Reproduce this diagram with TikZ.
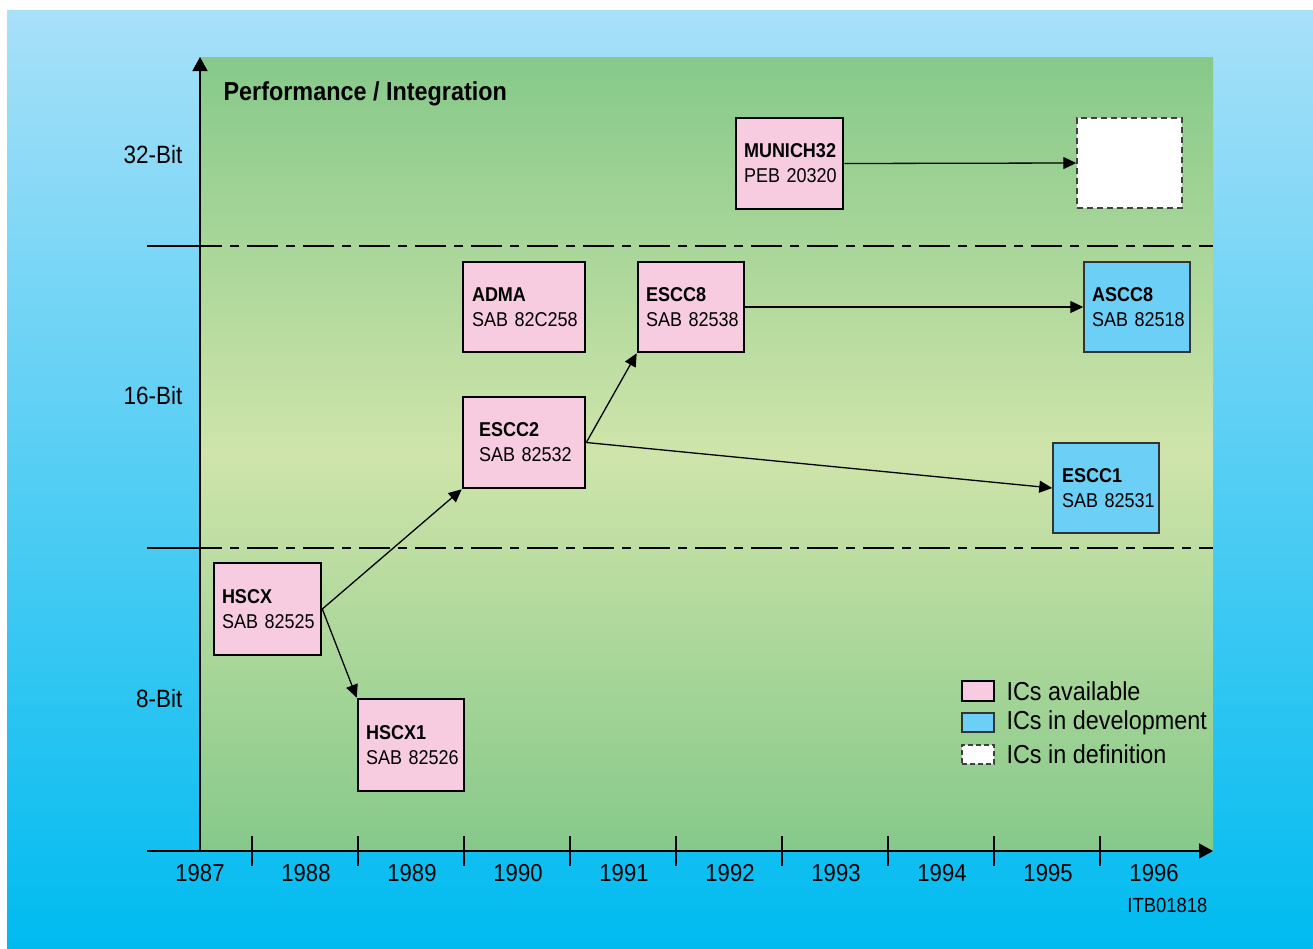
\documentclass[tikz,border=0pt]{standalone}
\usepackage{fontspec}
\setmainfont{Liberation Sans}[FakeStretch=0.9]
\usetikzlibrary{arrows.meta}
\definecolor{skytop}{HTML}{A8E0F8}
\definecolor{skybot}{HTML}{00BBF0}
\definecolor{grnedge}{HTML}{86C98A}
\definecolor{grnmid}{HTML}{CFE4AA}
\definecolor{chippink}{HTML}{F8CCE0}
\definecolor{chipblue}{HTML}{6CCFF6}
\tikzset{
  chipbase/.style={rectangle, align=left, inner ysep=0pt, font=\fontsize{20}{25}\selectfont, text=black},
  avail/.style={chipbase, fill=chippink, draw=black, line width=2.6pt},
  devel/.style={chipbase, fill=chipblue, draw=black!80, line width=1.5pt},
  defin/.style={chipbase, fill=white, draw=black!75, line width=1.5pt, dash pattern=on 6pt off 4pt},
  conn/.style={line width=1.3pt, -{Triangle[length=13pt,width=12pt]}},
  axis/.style={line width=1.4pt},
  levelline/.style={line width=1.3pt},
  yearlbl/.style={font=\fontsize{24.5}{28}\selectfont},
  bitlbl/.style={font=\fontsize{25}{30}\selectfont, anchor=east},
  leglbl/.style={font=\fontsize{26}{30}\selectfont, anchor=west},
  tick/.style={line width=1.3pt}
}
\begin{document}
\begin{tikzpicture}[x=1pt,y=-1pt]
\useasboundingbox (0,0) rectangle (1313,948);
\fill[white] (0,0) rectangle (1313,948);
\shade[top color=skytop, bottom color=skybot] (7,10) rectangle (1313,948);
\shade[top color=grnedge, bottom color=grnedge, middle color=grnmid] (200,57) rectangle (1213,851);

% level separators
\coordinate (l1a) at (147,246); \coordinate (l1b) at (222,246); \coordinate (l1c) at (1213,246);
\coordinate (l2a) at (147,548); \coordinate (l2b) at (222,548); \coordinate (l2c) at (1213,548);
\draw[levelline] (l1a) -- (l1b);
\draw[levelline, dash pattern=on 31pt off 8pt on 9pt off 8pt, dash phase=31pt] (l1b) -- (l1c);
\draw[levelline] (l2a) -- (l2b);
\draw[levelline, dash pattern=on 31pt off 8pt on 9pt off 8pt, dash phase=31pt] (l2b) -- (l2c);

% axes
\coordinate (origin) at (200,851);
\coordinate (ytop) at (200,57);
\coordinate (xleft) at (147,851);
\coordinate (xright) at (1213,851);
\draw[axis, -{Triangle[length=14pt,width=15pt]}] (origin) -- (ytop);
\draw[axis, -{Triangle[length=14pt,width=15pt]}] (xleft) -- (xright);
\foreach \k in {0,...,8} {
  \draw[tick] (252+106*\k,836) -- (252+106*\k,866);
}
\foreach \yr [count=\i from 0] in {1987,1988,1989,1990,1991,1992,1993,1994,1995,1996} {
  \node[yearlbl] (yr\yr) at (200+106*\i,873) {\yr};
}
\node[font=\fontsize{20.5}{24}\selectfont, anchor=east] (itb) at (1211,905) {ITB01818};

\node[bitlbl] (b32) at (186,155) {32-Bit};
\node[bitlbl] (b16) at (186,396) {16-Bit};
\node[bitlbl] (b8) at (186,699) {8-Bit};
\node[anchor=west, font=\bfseries\fontsize{26}{30}\selectfont] (title) at (220,94) {Performance / Integration};

% chips
\node[avail, minimum width=107pt, minimum height=92pt, inner xsep=8pt, text width=91pt] (hscx) at (267.5,609) {\textbf{HSCX}\\SAB~82525};
\node[avail, minimum width=106pt, minimum height=92pt, inner xsep=8pt, text width=90pt] (hscx1) at (411,745) {\textbf{HSCX1}\\SAB~82526};
\node[avail, minimum width=122pt, minimum height=91pt, inner xsep=16pt, text width=90pt] (escc2) at (524,442.5) {\textbf{ESCC2}\\SAB~82532};
\node[avail, minimum width=122pt, minimum height=90pt, inner xsep=9pt, text width=104pt] (adma) at (524,307) {\textbf{ADMA}\\SAB~82C258};
\node[avail, minimum width=106pt, minimum height=90pt, inner xsep=8pt, text width=90pt] (escc8) at (691,307) {\textbf{ESCC8}\\SAB~82538};
\node[avail, minimum width=107pt, minimum height=91pt, inner xsep=8pt, text width=91pt] (munich) at (789.5,163.5) {\textbf{MUNICH32}\\PEB~20320};
\node[defin, minimum width=105pt, minimum height=90pt] (undef) at (1129.5,163) {};
\node[devel, minimum width=106pt, minimum height=90pt, inner xsep=8pt, text width=90pt] (ascc8) at (1137,307) {\textbf{ASCC8}\\SAB~82518};
\node[devel, minimum width=106pt, minimum height=90pt, inner xsep=9pt, text width=88pt] (escc1) at (1106,488) {\textbf{ESCC1}\\SAB~82531};

% connectors
\draw[conn] (hscx.east) -- (escc2.south west);
\draw[conn] (hscx.east) -- (hscx1.north west);
\draw[conn] (escc2.east) -- (escc8.south west);
\draw[conn] (escc2.east) -- (escc1.west);
\draw[conn] (escc8.east) -- (ascc8.west);
\draw[conn] (munich.east) -- (undef.west);

% legend
\node[avail, line width=2.2pt, minimum width=32pt, minimum height=20pt, inner sep=0pt] (legA) at (978,691) {};
\node[devel, minimum width=32pt, minimum height=19pt, inner sep=0pt] (legB) at (978,722.5) {};
\node[defin, dash pattern=on 5pt off 3pt, minimum width=32pt, minimum height=19pt, inner sep=0pt] (legC) at (978,754.5) {};
\node[leglbl] (legAt) at (1003,691) {ICs available};
\node[leglbl] (legBt) at (1003,722.5) {ICs in development};
\node[leglbl] (legCt) at (1003,754.5) {ICs in definition};
\end{tikzpicture}
\end{document}
